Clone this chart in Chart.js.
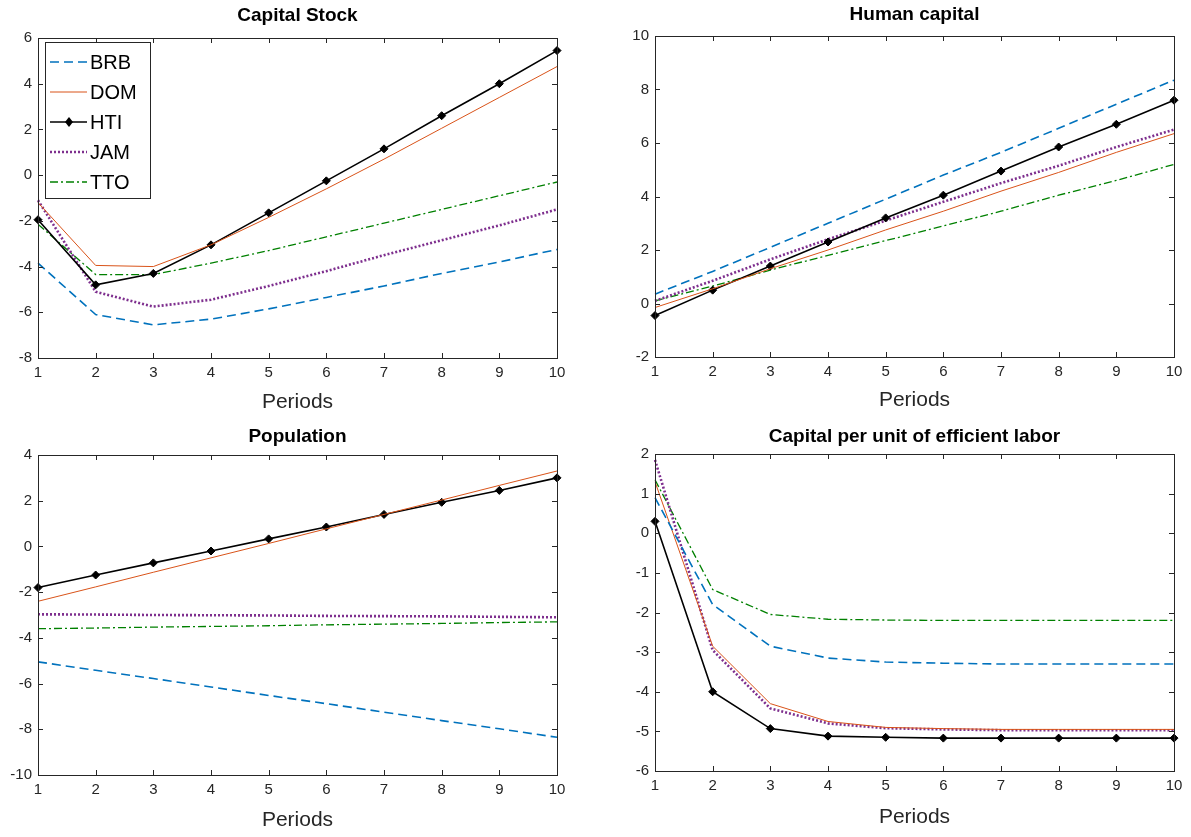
<!DOCTYPE html>
<html>
<head>
<meta charset="utf-8">
<script src="https://cdn.jsdelivr.net/npm/chart.js@4.4.1/dist/chart.umd.min.js"></script>
<style>
  html, body { margin: 0; padding: 0; background: #fff; overflow: hidden; }
  body { width: 1191px; height: 837px; position: relative; }
  canvas { position: absolute; }
</style>
</head>
<body>
<canvas id="c1"></canvas>
<canvas id="c2"></canvas>
<canvas id="c3"></canvas>
<canvas id="c4"></canvas>
<script>
const periods = [1, 2, 3, 4, 5, 6, 7, 8, 9, 10];
const countries = ['BRB', 'DOM', 'HTI', 'JAM', 'TTO'];

// Capital Stock
const capBRB = [-3.85, -6.1, -6.55, -6.3, -5.85, -5.35, -4.85, -4.3, -3.8, -3.25];
const capDOM = [-1.2, -3.95, -4.0, -3.05, -1.85, -0.6, 0.7, 2.05, 3.4, 4.75];
const capHTI = [-1.95, -4.8, -4.3, -3.05, -1.65, -0.25, 1.15, 2.6, 4.0, 5.45];
const capJAM = [-1.1, -5.1, -5.75, -5.45, -4.85, -4.2, -3.5, -2.85, -2.2, -1.5];
const capTTO = [-2.15, -4.35, -4.35, -3.85, -3.3, -2.7, -2.1, -1.5, -0.9, -0.3];

// Human capital
const humBRB = [0.35, 1.2, 2.1, 3.0, 3.9, 4.8, 5.65, 6.55, 7.45, 8.35];
const humDOM = [-0.15, 0.55, 1.3, 2.0, 2.75, 3.45, 4.2, 4.9, 5.65, 6.35];
const humHTI = [-0.45, 0.5, 1.4, 2.3, 3.2, 4.05, 4.95, 5.85, 6.7, 7.6];
const humJAM = [0.1, 0.85, 1.65, 2.4, 3.1, 3.8, 4.5, 5.15, 5.85, 6.5];
const humTTO = [0.1, 0.65, 1.25, 1.8, 2.35, 2.9, 3.45, 4.05, 4.6, 5.2];

// Population
const popBRB = [-5.05, -5.42, -5.78, -6.15, -6.52, -6.88, -7.25, -7.62, -7.98, -8.35];
const popDOM = [-2.4, -1.77, -1.13, -0.5, 0.13, 0.77, 1.4, 2.03, 2.67, 3.3];
const popHTI = [-1.8, -1.25, -0.72, -0.2, 0.33, 0.85, 1.4, 1.93, 2.45, 3.0];
const popJAM = [-2.97, -2.98, -3.0, -3.01, -3.02, -3.04, -3.05, -3.06, -3.08, -3.1];
const popTTO = [-3.6, -3.57, -3.53, -3.5, -3.47, -3.43, -3.4, -3.37, -3.33, -3.3];

// Capital per unit of efficient labor
const kelBRB = [0.9, -1.8, -2.85, -3.15, -3.25, -3.28, -3.3, -3.3, -3.3, -3.3];
const kelDOM = [1.3, -2.85, -4.3, -4.75, -4.9, -4.93, -4.95, -4.95, -4.95, -4.95];
const kelHTI = [0.3, -4.0, -4.93, -5.12, -5.15, -5.17, -5.17, -5.17, -5.17, -5.17];
const kelJAM = [1.85, -2.95, -4.42, -4.8, -4.92, -4.95, -4.97, -4.97, -4.97, -4.97];
const kelTTO = [1.35, -1.42, -2.05, -2.17, -2.19, -2.2, -2.2, -2.2, -2.2, -2.2];

const styles = {
  BRB: { color: '#0072BD', width: 1.6, dash: [9, 5] },
  DOM: { color: '#D95319', width: 1, dash: [] },
  HTI: { color: '#000000', width: 1.6, dash: [] },
  JAM: { color: '#7E2F8E', width: 2.6, dash: [2, 2] },
  TTO: { color: '#008000', width: 1.3, dash: [8, 3, 2, 3] }
};

const axisColor = '#262626';
const fontFamily = '"Liberation Sans", Arial, Helvetica, sans-serif';
const titleSize = 19, tickSize = 15, labelSize = 21, legendSize = 20;

function makeDatasets(series) {
  return countries.map(function (name, i) {
    const s = styles[name];
    return {
      label: name,
      data: series[i],
      borderColor: s.color,
      backgroundColor: s.color,
      borderWidth: s.width,
      borderDash: s.dash,
      tension: 0,
      fill: false,
      pointRadius: name === 'HTI' ? 4 : 0,
      pointHoverRadius: name === 'HTI' ? 4 : 0,
      pointStyle: 'rectRot',
      pointBackgroundColor: '#000',
      pointBorderColor: '#000',
      pointBorderWidth: 1
    };
  });
}

// box around the axes with inward ticks on all four sides
const boxPlugin = {
  id: 'box',
  afterDatasetsDraw: function (chart) {
    const ctx = chart.ctx;
    const a = chart.chartArea;
    const xs = chart.scales.x, ys = chart.scales.y;
    const len = 5;
    ctx.save();
    ctx.strokeStyle = axisColor;
    ctx.lineWidth = 1;
    ctx.setLineDash([]);
    ctx.beginPath();
    xs.ticks.forEach(function (t, i) {
      const px = Math.round(xs.getPixelForTick(i)) + 0.5;
      ctx.moveTo(px, a.bottom); ctx.lineTo(px, a.bottom - len);
      ctx.moveTo(px, a.top); ctx.lineTo(px, a.top + len);
    });
    ys.ticks.forEach(function (t, i) {
      const py = Math.round(ys.getPixelForTick(i)) + 0.5;
      ctx.moveTo(a.left, py); ctx.lineTo(a.left + len, py);
      ctx.moveTo(a.right, py); ctx.lineTo(a.right - len, py);
    });
    ctx.stroke();
    ctx.strokeRect(Math.round(a.left) + 0.5, Math.round(a.top) + 0.5,
      Math.round(a.right - a.left), Math.round(a.bottom - a.top));
    ctx.restore();
  }
};

// MATLAB-like legend in the upper left corner of the first panel
const legendPlugin = {
  id: 'matlabLegend',
  afterDraw: function (chart) {
    if (!chart.options.plugins.matlabLegend || !chart.options.plugins.matlabLegend.show) return;
    const ctx = chart.ctx;
    const a = chart.chartArea;
    const x0 = a.left + 7, y0 = a.top + 4, w = 105, h = 156;
    ctx.save();
    ctx.fillStyle = '#fff';
    ctx.fillRect(x0, y0, w, h);
    ctx.strokeStyle = axisColor;
    ctx.lineWidth = 1;
    ctx.strokeRect(x0 + 0.5, y0 + 0.5, w, h);
    ctx.font = legendSize + 'px ' + fontFamily;
    ctx.textBaseline = 'middle';
    countries.forEach(function (name, i) {
      const s = styles[name];
      const y = y0 + 20 + i * 30;
      ctx.strokeStyle = s.color;
      ctx.lineWidth = s.width;
      ctx.setLineDash(s.dash);
      ctx.beginPath();
      ctx.moveTo(x0 + 5, y);
      ctx.lineTo(x0 + 42, y);
      ctx.stroke();
      ctx.setLineDash([]);
      if (name === 'HTI') {
        ctx.fillStyle = '#000';
        ctx.beginPath();
        ctx.moveTo(x0 + 24, y - 5);
        ctx.lineTo(x0 + 28, y);
        ctx.lineTo(x0 + 24, y + 5);
        ctx.lineTo(x0 + 20, y);
        ctx.closePath();
        ctx.fill();
      }
      ctx.fillStyle = '#000';
      ctx.fillText(name, x0 + 45, y + 1);
    });
    ctx.restore();
  }
};

function makeChart(id, cfg) {
  const el = document.getElementById(id);
  el.width = cfg.w; el.height = cfg.h;
  el.style.left = cfg.left + 'px';
  el.style.top = cfg.top + 'px';
  el.style.width = cfg.w + 'px';
  el.style.height = cfg.h + 'px';
  const area = cfg.area;
  const titleLine = titleSize * 1.2;
  const titleTop = cfg.titleY - cfg.top - titleLine / 2;
  const titleBottom = (area[1] - cfg.top) - titleLine - titleTop;
  const xHeight = cfg.top + cfg.h - area[3];
  const xTitleBottom = (cfg.top + cfg.h - cfg.periodsY) - labelSize * 0.6;

  new Chart(el, {
    type: 'line',
    data: {
      labels: periods,
      datasets: makeDatasets(cfg.series)
    },
    plugins: [boxPlugin, legendPlugin],
    options: {
      responsive: false,
      animation: false,
      devicePixelRatio: 1,
      layout: { padding: { left: 0, right: cfg.left + cfg.w - area[2], top: 0, bottom: 0 } },
      plugins: {
        legend: { display: false },
        tooltip: { enabled: false },
        matlabLegend: { show: !!cfg.legend },
        title: {
          display: true,
          text: cfg.title,
          fullSize: false,
          color: '#000',
          font: { family: fontFamily, size: titleSize, weight: 'bold', lineHeight: 1.2 },
          padding: { top: titleTop, bottom: titleBottom }
        }
      },
      scales: {
        x: {
          type: 'category',
          offset: false,
          grid: { display: false, drawTicks: false },
          border: { display: false },
          ticks: { color: axisColor, padding: 6, maxRotation: 0, autoSkip: false,
            font: { family: fontFamily, size: tickSize } },
          title: {
            display: true, text: 'Periods', color: axisColor,
            font: { family: fontFamily, size: labelSize, lineHeight: 1.2 },
            padding: { top: 0, bottom: xTitleBottom }
          },
          afterFit: function (scale) { scale.height = xHeight; }
        },
        y: {
          min: cfg.yMin, max: cfg.yMax,
          grid: { display: false, drawTicks: false },
          border: { display: false },
          ticks: { color: axisColor, padding: 6, stepSize: cfg.yStep,
            font: { family: fontFamily, size: tickSize } },
          afterFit: function (scale) { scale.width = area[0] - cfg.left; }
        }
      }
    }
  });
}

makeChart('c1', {
  left: 0, top: 0, w: 595, h: 418, area: [38, 38, 557, 358],
  titleY: 16, periodsY: 402, title: 'Capital Stock',
  yMin: -8, yMax: 6, yStep: 2, legend: true,
  series: [capBRB, capDOM, capHTI, capJAM, capTTO]
});
makeChart('c2', {
  left: 600, top: 0, w: 591, h: 418, area: [655, 36, 1174, 357],
  titleY: 15, periodsY: 400, title: 'Human capital',
  yMin: -2, yMax: 10, yStep: 2,
  series: [humBRB, humDOM, humHTI, humJAM, humTTO]
});
makeChart('c3', {
  left: 0, top: 418, w: 595, h: 419, area: [38, 455, 557, 775],
  titleY: 437, periodsY: 820, title: 'Population',
  yMin: -10, yMax: 4, yStep: 2,
  series: [popBRB, popDOM, popHTI, popJAM, popTTO]
});
makeChart('c4', {
  left: 600, top: 418, w: 591, h: 419, area: [655, 454, 1174, 771],
  titleY: 437, periodsY: 817, title: 'Capital per unit of efficient labor',
  yMin: -6, yMax: 2, yStep: 1,
  series: [kelBRB, kelDOM, kelHTI, kelJAM, kelTTO]
});
</script>
</body>
</html>
